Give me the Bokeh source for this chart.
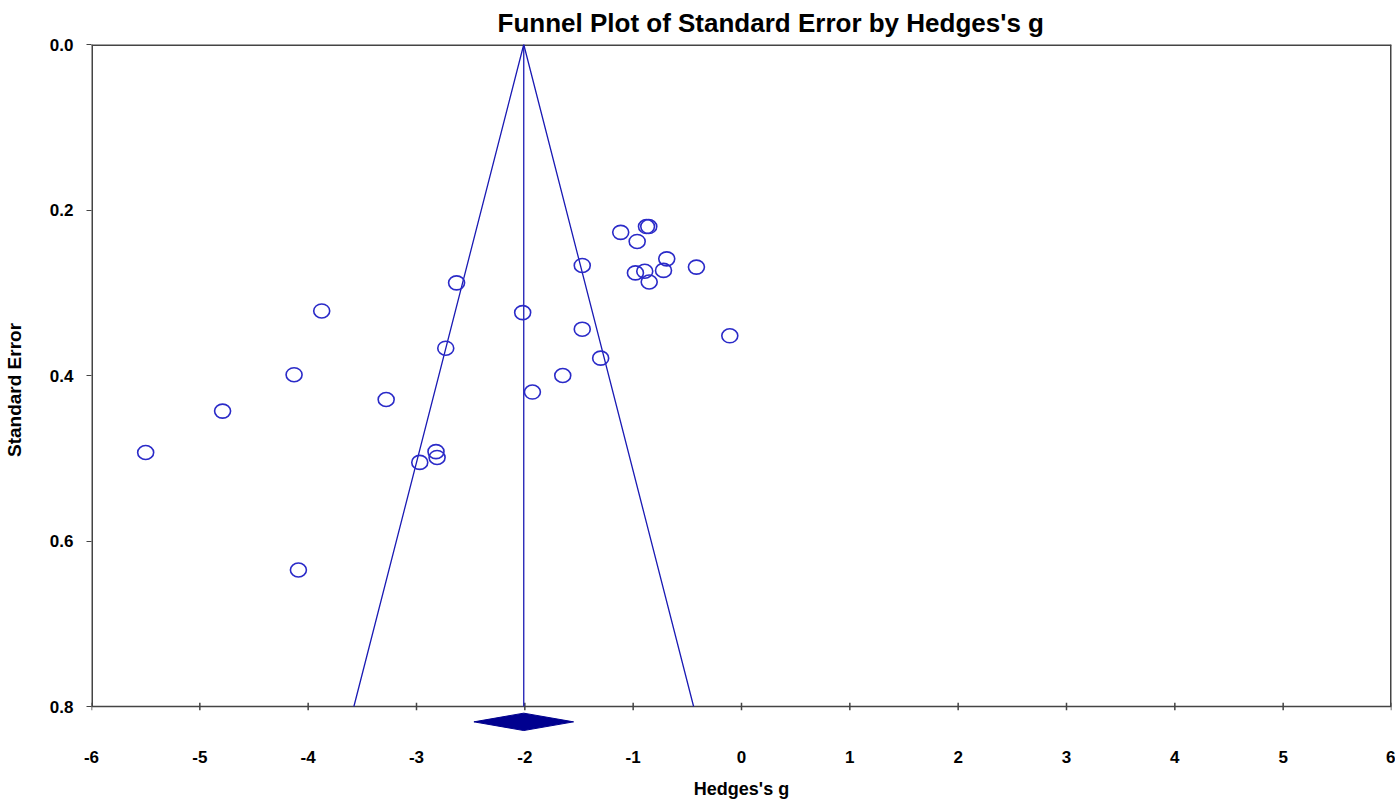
from bokeh.plotting import figure
from bokeh.models import Range1d, FixedTicker
from bokeh.embed import file_html
from bokeh.resources import INLINE

# ---- data ----
hedges_g = [-5.50, -4.79, -3.875, -4.13, -4.09, -3.28, -2.63, -2.73, -2.82, -2.81,
            -2.97, -2.02, -1.93, -1.65, -1.47, -1.47, -1.30, -1.115, -0.963, -0.877,
            -0.856, -0.979, -0.893, -0.852, -0.690, -0.720, -0.416, -0.108]
std_error = [0.493, 0.443, 0.322, 0.399, 0.635, 0.429, 0.288, 0.367, 0.492, 0.499,
             0.505, 0.324, 0.420, 0.400, 0.267, 0.344, 0.379, 0.227, 0.238, 0.220,
             0.220, 0.276, 0.274, 0.287, 0.259, 0.273, 0.269, 0.352]
summary_g = -2.01
summary_ci_low = -2.47
summary_ci_high = -1.55
x_ticks = [-6, -5, -4, -3, -2, -1, 0, 1, 2, 3, 4, 5, 6]
x_tick_labels = ["-6", "-5", "-4", "-3", "-2", "-1", "0", "1", "2", "3", "4", "5", "6"]
y_ticks = [0.0, 0.2, 0.4, 0.6, 0.8]
y_tick_labels = ["0.0", "0.2", "0.4", "0.6", "0.8"]
se_max = 0.8
x_min, x_max = -6, 6

FONT = "Liberation Sans"
AXIS_COLOR = "#444444"
POINT_COLOR = "#2a2ac8"
LINE_COLOR = "#1a1ab4"
DIAMOND_COLOR = "#00008f"

# frame extends a little below SE = 0.8 so that the summary diamond can sit under the axis
y_bottom = 0.835
p = figure(
    frame_width=1300, frame_height=691,
    min_border_left=91, min_border_right=4, min_border_top=44, min_border_bottom=60,
    x_range=Range1d(x_min, x_max), y_range=Range1d(y_bottom, 0.0),
    output_backend="svg", toolbar_location=None,
    title="Funnel Plot of Standard Error by Hedges's g",
)
p.background_fill_color = "white"
p.border_fill_color = "white"
p.outline_line_color = None
p.grid.visible = False

p.title.text_font = FONT
p.title.text_font_size = "26px"
p.title.text_font_style = "bold"
p.title.text_color = "black"
p.title.align = "left"
p.title.vertical_align = "top"
p.title.offset = 406
p.title.standoff = 10

# x axis: labels from Bokeh, line and ticks drawn at SE = 0.8 below
xa = p.xaxis[0]
xa.ticker = FixedTicker(ticks=x_ticks, minor_ticks=[])
xa.major_label_overrides = {t: l for t, l in zip(x_ticks, x_tick_labels)}
xa.axis_label = "Hedges's g"
xa.axis_label_text_font = FONT
xa.axis_label_text_font_size = "18px"
xa.axis_label_text_font_style = "bold"
xa.axis_label_text_color = "black"
xa.axis_label_standoff = 13
xa.major_label_text_font = FONT
xa.major_label_text_font_size = "17px"
xa.major_label_text_font_style = "bold"
xa.major_label_text_color = "black"
xa.major_label_standoff = 15
xa.major_tick_in = 0
xa.major_tick_out = 0
xa.major_tick_line_color = None
xa.axis_line_color = None

# y axis
ya = p.yaxis[0]
ya.ticker = FixedTicker(ticks=y_ticks, minor_ticks=[])
ya.major_label_overrides = {t: l for t, l in zip(y_ticks, y_tick_labels)}
ya.axis_label = "Standard Error"
ya.axis_label_text_font = FONT
ya.axis_label_text_font_size = "19px"
ya.axis_label_text_font_style = "bold"
ya.axis_label_text_color = "black"
ya.axis_label_standoff = 22
ya.major_label_text_font = FONT
ya.major_label_text_font_size = "17px"
ya.major_label_text_font_style = "bold"
ya.major_label_text_color = "black"
ya.major_label_standoff = 13
ya.major_tick_in = 0
ya.major_tick_out = 5
ya.major_tick_line_color = AXIS_COLOR
ya.axis_line_color = None

# plot box (0..0.8 in SE, -6..6 in g)
p.segment(x0=[x_min, x_max, x_min], y0=[0.0, 0.0, 0.0],
          x1=[x_min, x_max, x_max], y1=[se_max, se_max, 0.0],
          line_color=AXIS_COLOR, line_width=3)
p.segment(x0=[x_min], y0=[se_max], x1=[x_max], y1=[se_max],
          line_color=AXIS_COLOR, line_width=1.5)
# x ticks crossing the axis line
tick_half = 0.0045
p.segment(x0=x_ticks, y0=[se_max - tick_half] * len(x_ticks),
          x1=x_ticks, y1=[se_max + tick_half] * len(x_ticks),
          line_color=AXIS_COLOR, line_width=1.5)

# funnel (95% pseudo-confidence limits) and summary line
z = 1.96
p.line([summary_g - z * se_max, summary_g, summary_g + z * se_max], [se_max, 0.0, se_max],
       line_color=LINE_COLOR, line_width=1.3)
p.segment(x0=[summary_g], y0=[0.0], x1=[summary_g], y1=[se_max],
          line_color=LINE_COLOR, line_width=1.3)

# studies
p.ellipse(x=hedges_g, y=std_error, width=16, height=14,
          width_units="screen", height_units="screen",
          fill_color=None, line_color=POINT_COLOR, line_width=1.6)

# summary diamond below the axis
yc = 0.8185
hh = 0.0105
p.patch(x=[summary_ci_low, summary_g, summary_ci_high, summary_g],
        y=[yc, yc - hh, yc, yc + hh],
        fill_color=DIAMOND_COLOR, line_color=DIAMOND_COLOR, line_width=1)

open("out.html", "w").write(file_html(p, INLINE))
